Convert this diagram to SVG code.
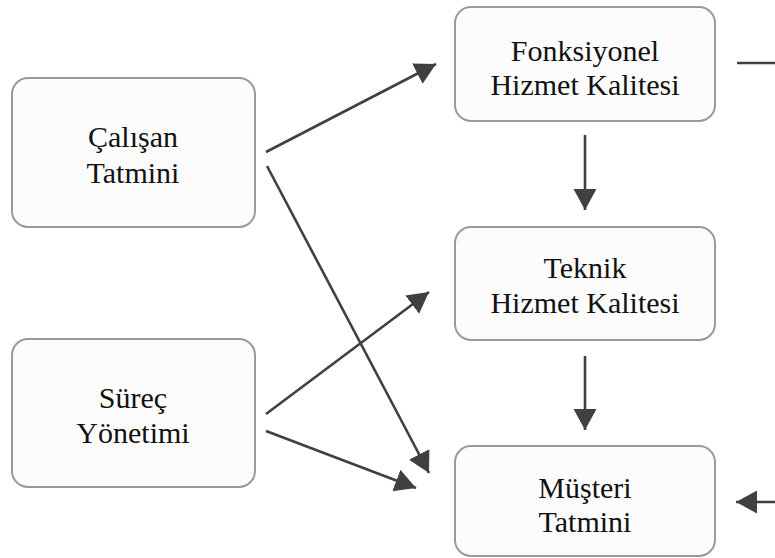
<svg xmlns="http://www.w3.org/2000/svg" width="775" height="558" viewBox="0 0 775 558">
  <style>
    .box { fill: #fcfcfc; stroke: #9a9a9a; stroke-width: 2; }
    .lbl { font-family: "Liberation Serif", "Times New Roman", serif; font-size: 30px; fill: #111; text-anchor: middle; }
    .edge { stroke: #404040; stroke-width: 2.6; fill: none; }
  </style>
  <defs>
    <marker id="head" markerUnits="userSpaceOnUse" markerWidth="24" markerHeight="24" refX="21" refY="11.5" orient="auto">
      <path d="M0,0 L21,11.5 L0,23 z" fill="#404040"/>
    </marker>
  </defs>

  <rect width="775" height="558" fill="#ffffff"/>

  <g id="calisan-tatmini">
    <rect class="box" x="12" y="78" width="243" height="149" rx="16"/>
    <text class="lbl" x="133" y="147">Çalışan</text>
    <text class="lbl" x="133" y="183">Tatmini</text>
  </g>

  <g id="surec-yonetimi">
    <rect class="box" x="12" y="339" width="243" height="148" rx="16"/>
    <text class="lbl" x="133" y="408">Süreç</text>
    <text class="lbl" x="133" y="443">Yönetimi</text>
  </g>

  <g id="fonksiyonel-hizmet">
    <rect class="box" x="455" y="7" width="260" height="114" rx="16"/>
    <text class="lbl" x="585" y="61">Fonksiyonel</text>
    <text class="lbl" x="585" y="95">Hizmet Kalitesi</text>
  </g>

  <g id="teknik-hizmet">
    <rect class="box" x="455" y="227" width="260" height="113" rx="16"/>
    <text class="lbl" x="585" y="278">Teknik</text>
    <text class="lbl" x="585" y="313">Hizmet Kalitesi</text>
  </g>

  <g id="musteri-tatmini">
    <rect class="box" x="455" y="446" width="260" height="110" rx="16"/>
    <text class="lbl" x="585" y="498">Müşteri</text>
    <text class="lbl" x="585" y="532">Tatmini</text>
  </g>

  <g id="connectors">
    <line class="edge" x1="266" y1="152" x2="436" y2="64" marker-end="url(#head)"/>
    <line class="edge" x1="267" y1="166" x2="429" y2="473" marker-end="url(#head)"/>
    <line class="edge" x1="266" y1="414" x2="429" y2="292" marker-end="url(#head)"/>
    <line class="edge" x1="266" y1="431" x2="416" y2="488" marker-end="url(#head)"/>
    <line class="edge" x1="585" y1="135" x2="585" y2="210" marker-end="url(#head)"/>
    <line class="edge" x1="585" y1="356" x2="585" y2="430" marker-end="url(#head)"/>
    <line class="edge" x1="737" y1="63" x2="775" y2="63"/>
    <line class="edge" x1="775" y1="502" x2="736" y2="502" marker-end="url(#head)"/>
  </g>
</svg>
